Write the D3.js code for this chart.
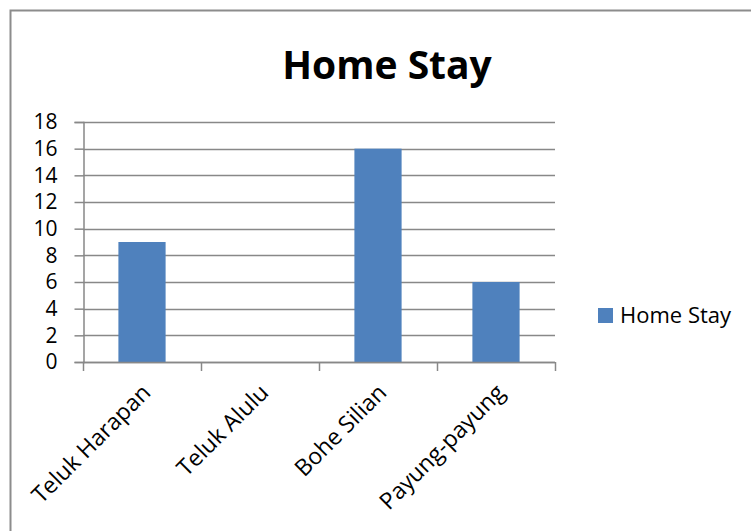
<!DOCTYPE html>
<html>
<head>
<meta charset="utf-8">
<script src="https://cdn.jsdelivr.net/npm/d3@7"></script>
<style>
    body { margin: 0; background: #fff; }
    text { font-family: "Open Sans", "Noto Sans", sans-serif; fill: #000; }
</style>
</head>
<body>
<div id="chart"></div>
<script>
// chart data
const categories = ["Teluk Harapan", "Teluk Alulu", "Bohe Silian", "Payung-payung"];
const values = [9, 0, 16, 6];
const yTicks = [0, 2, 4, 6, 8, 10, 12, 14, 16, 18];
const seriesName = "Home Stay";

const W = 751, H = 531;
const plot = {left: 83, right: 555, top: 122, bottom: 362};

const svg = d3.select("#chart")
    .append("svg")
    .attr("width", W)
    .attr("height", H);

// outer frame (runs off the right and bottom edge like the original)
svg.append("rect")
    .attr("x", 10.5).attr("y", 10.5)
    .attr("width", 770).attr("height", 560)
    .attr("fill", "none")
    .attr("stroke", "#8c8c8c")
    .attr("stroke-width", 2);

const x = d3.scaleBand()
    .domain(categories)
    .range([plot.left, plot.right])
    .padding(0);

const y = d3.scaleLinear()
    .domain([0, 18])
    .range([plot.bottom, plot.top]);

// gridlines
svg.append("g")
    .selectAll("line")
    .data(yTicks)
    .join("line")
    .attr("x1", plot.left).attr("x2", plot.right)
    .attr("y1", d => Math.round(y(d)) + 0.5)
    .attr("y2", d => Math.round(y(d)) + 0.5)
    .attr("stroke", "#888")
    .attr("stroke-width", 1.5);

// bars
const barW = x.bandwidth() * 0.4;
svg.append("g")
    .selectAll("rect")
    .data(categories.map((c, i) => ({c, v: values[i]})))
    .join("rect")
    .attr("x", d => x(d.c) + (x.bandwidth() - barW) / 2)
    .attr("y", d => y(d.v))
    .attr("width", barW)
    .attr("height", d => y(0) - y(d.v))
    .attr("fill", "#4f81bd");

// y axis
const yAxis = svg.append("g")
    .attr("transform", `translate(${plot.left + 0.5},0)`)
    .call(d3.axisLeft(y).tickValues(yTicks).tickSize(9).tickPadding(17).tickFormat(d3.format("d")));
yAxis.selectAll("line, path").attr("stroke", "#888").attr("stroke-width", 1.5);
yAxis.selectAll("text")
    .style("font-size", "21px")
    .style("font-family", "'Open Sans', sans-serif")
    .attr("fill", "#000");

// x axis
const xTickPos = categories.map(c => x(c)).concat([plot.right]);
const xa = svg.append("g");
xa.append("line")
    .attr("x1", plot.left).attr("x2", plot.right)
    .attr("y1", plot.bottom + 0.5).attr("y2", plot.bottom + 0.5)
    .attr("stroke", "#888").attr("stroke-width", 1.5);
xa.selectAll("line.tick")
    .data(xTickPos)
    .join("line")
    .attr("class", "tick")
    .attr("x1", d => d + 0.5).attr("x2", d => d + 0.5)
    .attr("y1", plot.bottom).attr("y2", plot.bottom + 9)
    .attr("stroke", "#888").attr("stroke-width", 1.5);
xa.selectAll("text")
    .data(categories)
    .join("text")
    .attr("transform", d => `translate(${x(d) + x.bandwidth() / 2 + 10},${plot.bottom + 32}) rotate(-45)`)
    .attr("text-anchor", "end")
    .style("font-size", "23px")
    .text(d => d);

// title
svg.append("text")
    .attr("x", 387)
    .attr("y", 79)
    .attr("text-anchor", "middle")
    .style("font-size", "39px")
    .style("font-weight", "bold")
    .text(seriesName);

// legend
const lg = svg.append("g").attr("transform", "translate(598,308)");
lg.append("rect")
    .attr("width", 15).attr("height", 15)
    .attr("fill", "#4f81bd");
lg.append("text")
    .attr("x", 22).attr("y", 15)
    .style("font-size", "22px")
    .text(seriesName);
</script>
</body>
</html>
